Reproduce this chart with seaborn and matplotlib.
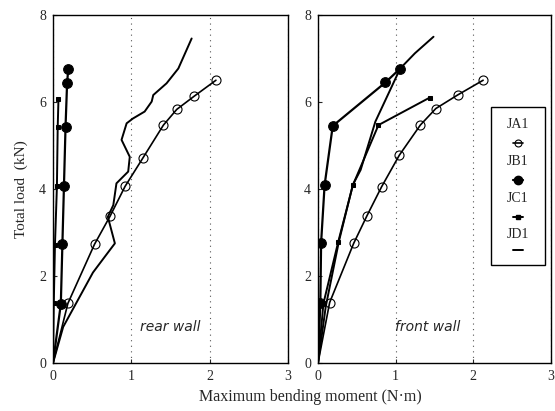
import numpy as np
import pandas as pd
import seaborn as sns
import matplotlib
matplotlib.use("Agg")
import matplotlib.pyplot as plt
from matplotlib.patches import Rectangle
from matplotlib.lines import Line2D

sns.set_style("ticks")
plt.rcParams['font.family'] = ['Liberation Serif', 'DejaVu Serif']

# ---------------- data ----------------
series = ["JA1", "JB1", "JC1", "JD1"]

# rear wall
JA1_rear_x = [0, 0.19, 0.53, 0.73, 0.92, 1.15, 1.41, 1.58, 1.80, 2.08]
JA1_rear_y = [0, 1.37, 2.73, 3.38, 4.06, 4.72, 5.47, 5.83, 6.13, 6.50]
JB1_rear_x = [0, 0.10, 0.12, 0.14, 0.16, 0.18, 0.195]
JB1_rear_y = [0, 1.36, 2.74, 4.08, 5.43, 6.44, 6.76]
JC1_rear_x = [0, 0.01, 0.025, 0.05, 0.06, 0.07]
JC1_rear_y = [0, 1.37, 2.72, 4.06, 5.42, 6.08]
JD1_rear_x = [0, 0.13, 0.51, 0.66, 0.79, 0.70, 0.77, 0.81, 0.96, 0.98, 0.875,
              0.94, 1.02, 1.17, 1.26, 1.28, 1.45, 1.60, 1.77]
JD1_rear_y = [0, 0.83, 2.08, 2.44, 2.75, 3.36, 3.63, 4.13, 4.40, 4.74, 5.13,
              5.51, 5.62, 5.78, 6.01, 6.16, 6.43, 6.77, 7.46]

# front wall
JA1_front_x = [0, 0.15, 0.46, 0.63, 0.82, 1.05, 1.32, 1.52, 1.80, 2.13]
JA1_front_y = [0, 1.39, 2.75, 3.38, 4.05, 4.78, 5.47, 5.85, 6.16, 6.50]
JB1_front_x = [0, 0.03, 0.04, 0.085, 0.19, 0.87, 1.06]
JB1_front_y = [0, 1.37, 2.77, 4.09, 5.45, 6.45, 6.77]
JC1_front_x = [0, 0.07, 0.26, 0.45, 0.78, 1.44]
JC1_front_y = [0, 1.37, 2.78, 4.09, 5.47, 6.10]
JD1_front_x = [0, 0.10, 0.27, 0.45, 0.55, 0.74, 1.06, 1.25, 1.49]
JD1_front_y = [0, 1.30, 2.80, 4.10, 4.44, 5.55, 6.77, 7.12, 7.50]

x_ticks = [0, 1, 2, 3]
y_ticks = [0, 2, 4, 6, 8]
panel_labels = ["rear wall", "front wall"]

styles = {
    "JA1": dict(marker="o", markersize=6.5, markerfacecolor="none",
                markeredgecolor="black", markeredgewidth=0.8, linewidth=1.2),
    "JB1": dict(marker="o", markersize=7, markerfacecolor="black",
                markeredgecolor="black", linewidth=1.6),
    "JC1": dict(marker="s", markersize=3.2, markerfacecolor="black",
                markeredgecolor="black", linewidth=1.4),
    "JD1": dict(marker=None, linewidth=1.4),
}

rear = {"JA1": (JA1_rear_x, JA1_rear_y), "JB1": (JB1_rear_x, JB1_rear_y),
        "JC1": (JC1_rear_x, JC1_rear_y), "JD1": (JD1_rear_x, JD1_rear_y)}
front = {"JA1": (JA1_front_x, JA1_front_y), "JB1": (JB1_front_x, JB1_front_y),
         "JC1": (JC1_front_x, JC1_front_y), "JD1": (JD1_front_x, JD1_front_y)}

fig = plt.figure(figsize=(5.55, 4.11), dpi=100)
ax1 = fig.add_axes([0.0955, 0.1168, 0.4234, 0.8467])
ax2 = fig.add_axes([0.5730, 0.1168, 0.4190, 0.8467])

for ax, data, lab, lx in [(ax1, rear, panel_labels[0], 1.50),
                          (ax2, front, panel_labels[1], 1.42)]:
    for s in series:
        xs, ys = data[s]
        df = pd.DataFrame({"x": xs, "y": ys})
        kw = dict(styles[s])
        if kw.get("marker"):
            kw["markevery"] = list(range(1, len(xs)))
        sns.lineplot(data=df, x="x", y="y", sort=False, estimator=None,
                     color="black", ax=ax, **kw)
    ax.set_xlim(0, 3)
    ax.set_ylim(0, 8)
    ax.set_xticks(x_ticks)
    ax.set_yticks(y_ticks)
    ax.set_xlabel("")
    ax.set_ylabel("")
    ax.grid(axis="x", linestyle=(0, (1, 4)), color="#555555", linewidth=0.8)
    ax.tick_params(direction="in", length=3, labelsize=10, pad=5)
    for sp in ax.spines.values():
        sp.set_visible(True)
        sp.set_linewidth(1.0)
        sp.set_color("black")
    ax.text(lx, 0.83, lab, style="italic", fontsize=10,
            family=["DejaVu Sans"], ha="center", va="center")

ax1.set_ylabel("Total load  (kN)", fontsize=11, labelpad=8)
fig.text(0.56, 0.035, "Maximum bending moment (N\u00b7m)", ha="center",
         va="center", fontsize=11.5)

# legend box (label above its symbol)
ax2.add_patch(Rectangle((0.745, 0.282), 0.23, 0.454, transform=ax2.transAxes,
                        facecolor="white", edgecolor="black", linewidth=1.0,
                        zorder=5))
lab_y = [0.684, 0.578, 0.474, 0.368]
sym_y = [0.632, 0.526, 0.420, 0.325]
for s, ly, sy in zip(series, lab_y, sym_y):
    ax2.text(0.86, ly, s, transform=ax2.transAxes, ha="center", va="center",
             fontsize=10, zorder=6)
    st = dict(styles[s])
    if s == "JA1":
        st["markersize"] = 5
    elif s == "JB1":
        st["markersize"] = 6
    ax2.add_line(Line2D([0.837, 0.883], [sy, sy], transform=ax2.transAxes,
                        color="black", zorder=6, **{k: v for k, v in st.items()
                                                     if k != "marker"}))
    if st.get("marker"):
        ax2.add_line(Line2D([0.86], [sy], transform=ax2.transAxes,
                            color="black", zorder=7, linestyle="none", **st))

fig.savefig("out.png", dpi=100)
